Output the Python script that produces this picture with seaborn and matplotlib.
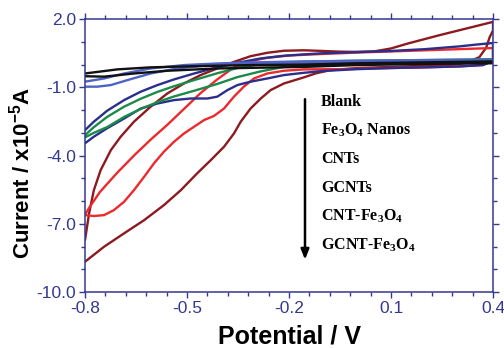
import numpy as np
import pandas as pd
import matplotlib
matplotlib.use("Agg")
import matplotlib.pyplot as plt
import seaborn as sns

# legend labels, top to bottom
labels = ["Blank", "Fe$_3$O$_4$ Nanos", "CNTs", "GCNTs", "CNT-Fe$_3$O$_4$", "GCNT-Fe$_3$O$_4$"]

# cyclic voltammograms, each loop (forward sweep, then return)
blank_x = [-0.8, -0.705, -0.607, -0.479, -0.313, -0.156, 0.0, 0.2, 0.4,
           0.4, 0.2, 0.0, -0.156, -0.411, -0.558, -0.656, -0.744, -0.8]
blank_y = [-0.39, -0.21, -0.12, -0.07, -0.02, 0.0, 0.06, 0.1, 0.14,
           0.06, 0.03, -0.02, -0.1, -0.17, -0.27, -0.39, -0.53, -0.51]

fe3o4_x = [-0.8, -0.764, -0.724, -0.675, -0.607, -0.529, -0.431, -0.3, -0.2, 0.0, 0.2, 0.4,
           0.4, 0.2, 0.0, -0.2, -0.3, -0.411, -0.509, -0.607, -0.685, -0.744, -0.8]
fe3o4_y = [-0.97, -0.97, -0.9, -0.68, -0.39, -0.17, -0.02, 0.03, 0.05, 0.07, 0.09, 0.12,
           0.22, 0.2, 0.17, 0.13, 0.1, 0.05, -0.02, -0.17, -0.39, -0.61, -0.75]

cnt_x = [-0.8, -0.774, -0.735, -0.685, -0.636, -0.587, -0.538, -0.479, -0.411, -0.352,
         -0.284, -0.215, -0.156, 0.0, 0.2, 0.4,
         0.4, 0.2, 0.0, -0.156, -0.215, -0.284, -0.352, -0.411, -0.479, -0.538, -0.587,
         -0.636, -0.685, -0.735, -0.774, -0.8]
cnt_y = [-3.2, -3.0, -2.75, -2.3, -1.95, -1.65, -1.4, -1.15, -0.85, -0.55,
         -0.3, -0.1, 0.0, 0.05, 0.08, 0.12,
         0.24, 0.2, 0.17, 0.13, 0.1, 0.02, -0.15, -0.38, -0.68, -0.95, -1.2,
         -1.5, -1.85, -2.3, -2.75, -3.1]

gcnt_x = [-0.8, -0.774, -0.735, -0.685, -0.636, -0.587, -0.538, -0.489, -0.44, -0.411,
          -0.381, -0.352, -0.313, -0.264, -0.215, -0.156, -0.1, 0.0, 0.1, 0.2, 0.3, 0.37, 0.4,
          0.4, 0.35, 0.3, 0.2, 0.1, 0.0, -0.1, -0.156, -0.215, -0.284, -0.352, -0.411,
          -0.479, -0.538, -0.587, -0.636, -0.685, -0.735, -0.774, -0.8]
gcnt_y = [-3.46, -3.17, -2.8, -2.37, -1.93, -1.71, -1.56, -1.49, -1.49, -1.41,
          -1.12, -0.9, -0.75, -0.61, -0.46, -0.36, -0.28, -0.2, -0.15, -0.12, -0.08, -0.02, 0.15,
          0.95, 0.88, 0.8, 0.68, 0.6, 0.55, 0.5, 0.45, 0.39, 0.27, 0.08, -0.12,
          -0.39, -0.65, -0.9, -1.19, -1.56, -2.03, -2.51, -2.88]

cntfe_x = [-0.8, -0.774, -0.744, -0.715, -0.685, -0.656, -0.626, -0.597, -0.568, -0.538,
           -0.509, -0.479, -0.45, -0.421, -0.391, -0.362, -0.333, -0.303, -0.264, -0.215,
           -0.156, -0.05, 0.1, 0.2, 0.3, 0.37, 0.4,
           0.4, 0.3, 0.2, 0.1, 0.0, -0.1, -0.2, -0.264, -0.315, -0.365, -0.411, -0.46,
           -0.509, -0.558, -0.607, -0.656, -0.705, -0.756, -0.788, -0.8]
cntfe_y = [-6.62, -6.66, -6.62, -6.4, -6.03, -5.52, -4.93, -4.34, -3.83, -3.39,
           -3.03, -2.73, -2.44, -2.26, -1.93, -1.41, -0.97, -0.61, -0.39, -0.27,
           -0.21, -0.2, -0.15, -0.12, -0.08, -0.02, 0.2,
           0.73, 0.68, 0.63, 0.58, 0.53, 0.47, 0.4, 0.3, 0.15, -0.15, -0.65, -1.25,
           -1.95, -2.65, -3.3, -4.0, -4.75, -5.6, -6.3, -6.6]

gcntfe_x = [-0.8, -0.744, -0.685, -0.626, -0.568, -0.518, -0.47, -0.43, -0.391, -0.362,
            -0.342, -0.313, -0.283, -0.254, -0.215, -0.156, -0.12, -0.08, 0.0, 0.1, 0.2,
            0.27, 0.32, 0.36, 0.38, 0.39, 0.4,
            0.4, 0.341, 0.244, 0.15, 0.1, 0.05, 0.0, -0.05, -0.1, -0.156, -0.215, -0.264,
            -0.313, -0.362, -0.411, -0.46, -0.509, -0.558, -0.607, -0.656, -0.695, -0.724,
            -0.754, -0.774, -0.788, -0.8]
gcntfe_y = [-8.67, -8.01, -7.42, -6.84, -6.18, -5.52, -4.78, -4.2, -3.61, -3.03,
            -2.51, -1.93, -1.49, -1.12, -0.83, -0.56, -0.38, -0.25, -0.15, -0.1, -0.05,
            -0.02, 0.07, 0.33, 0.75, 1.2, 1.5,
            1.88, 1.66, 1.3, 0.93, 0.71, 0.58, 0.56, 0.57, 0.6, 0.63, 0.61, 0.52,
            0.37, 0.12, -0.17, -0.46, -0.83, -1.27, -1.85, -2.51, -3.17, -3.76,
            -4.64, -5.52, -6.54, -7.71]

series_x = [blank_x, fe3o4_x, cnt_x, gcnt_x, cntfe_x, gcntfe_x]
series_y = [blank_y, fe3o4_y, cnt_y, gcnt_y, cntfe_y, gcntfe_y]
colors = ["#111111", "#4f63c6", "#1c8a4a", "#2a2f8c", "#ec2a2e", "#8c1a1f"]

x_ticks = [-0.8, -0.5, -0.2, 0.1, 0.4]
y_ticks = [2.0, -1.0, -4.0, -7.0, -10.0]

sns.set_theme(style="white")
plt.rcParams["font.family"] = ["Liberation Sans", "DejaVu Sans"]
plt.rcParams["mathtext.default"] = "regular"
plt.rcParams["lines.solid_joinstyle"] = "round"
plt.rcParams["lines.solid_capstyle"] = "round"

navy = "#34398f"

fig = plt.figure(figsize=(5.04, 3.48), dpi=100)
ax = fig.add_axes([0.1687, 0.161, 0.8095, 0.784])

# big loops first so the small ones sit on top
for i in [5, 4, 3, 2, 1, 0]:
    df = pd.DataFrame({"E": series_x[i], "I": series_y[i]})
    sns.lineplot(data=df, x="E", y="I", sort=False, estimator=None,
                 color=colors[i], lw=1.7, ax=ax)

ax.set_xlim(-0.8, 0.4)
ax.set_ylim(-10.0, 2.0)
ax.set_xticks(x_ticks)
ax.set_xticks(np.arange(-0.8, 0.41, 0.06), minor=True)
ax.set_yticks(y_ticks)
ax.set_yticks(np.arange(-10, 2.1, 1.0), minor=True)
ax.set_xticklabels([f"{v:.1f}" for v in x_ticks])
ax.set_yticklabels([f"{v:.1f}" for v in y_ticks])

for lab in ax.get_xticklabels() + ax.get_yticklabels():
    lab.set_family(["Liberation Sans Narrow", "Liberation Sans"])
    lab.set_fontsize(12.5)
    lab.set_color(navy)

ax.tick_params(which="both", direction="out", top=True, right=True,
               bottom=True, left=True, color=navy, width=1.0)
ax.tick_params(which="major", length=4.5, pad=2)
ax.tick_params(which="minor", length=3)
for s in ax.spines.values():
    s.set_color(navy)
    s.set_linewidth(1.1)

ax.set_xlabel("Potential / V", fontsize=18, fontweight="bold", color="black")
ax.set_ylabel("Current / x10$^{-5}$A", fontsize=16, fontweight="bold", color="black")
ax.xaxis.set_label_coords(0.5, -0.118)
ax.yaxis.set_label_coords(-0.125, 0.435)

# arrow and sample list
ax.annotate("", xy=(-0.153, -8.7), xytext=(-0.153, -1.4),
            arrowprops=dict(arrowstyle="-|>,head_length=0.5,head_width=0.2",
                            color="black", lw=1.8))
label_y = [-1.63, -2.91, -4.17, -5.41, -6.69, -7.96]
for txt, yy in zip(labels, label_y):
    ax.text(-0.106, yy, txt, ha="left", va="center", fontsize=11.5,
            fontweight="bold", family=["Liberation Serif", "DejaVu Serif"], color="black")

fig.savefig("out.png", dpi=100)
